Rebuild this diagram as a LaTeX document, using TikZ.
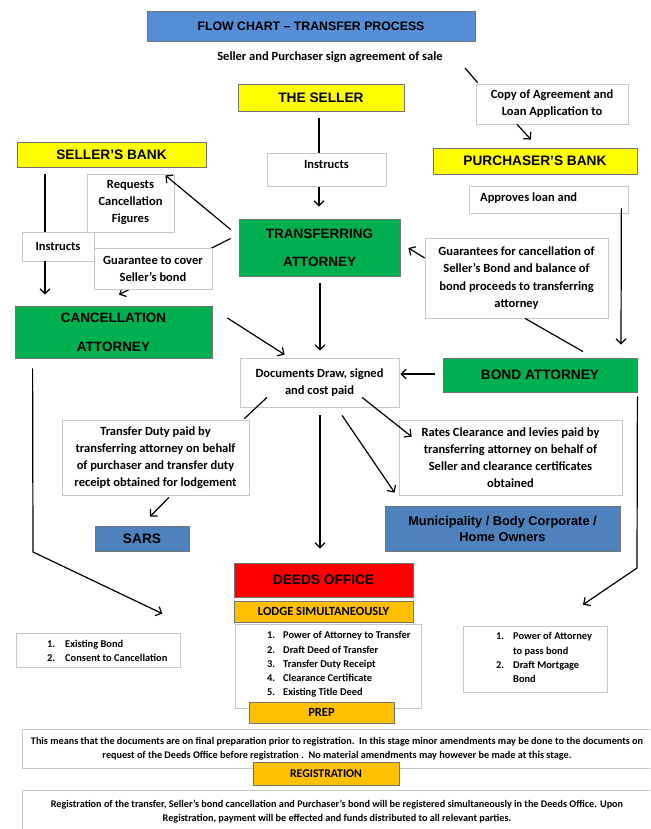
\documentclass[tikz,border=0pt]{standalone}
\usepackage{fontspec}
\setmainfont{Carlito}
\newfontfamily\arialf{Liberation Sans}
\usetikzlibrary{arrows.meta,backgrounds}
\definecolor{tblue}{HTML}{558ED5}
\definecolor{mblue}{HTML}{4F81BD}
\definecolor{tgreen}{HTML}{00B050}
\definecolor{tyellow}{HTML}{FFFF00}
\definecolor{tred}{HTML}{FF0000}
\definecolor{torange}{HTML}{FFC000}
\tikzset{
  txt/.style={inner sep=0pt, align=center, font=\bfseries\fontsize{12.5}{17}\selectfont},
  wbox/.style={draw=black!22, fill=white, line width=0.7pt, inner sep=0pt, align=center, font=\bfseries\fontsize{12.5}{17}\selectfont},
  hbox/.style={draw=black!55, line width=0.8pt, inner sep=0pt, align=center, font=\arialf\bfseries\fontsize{13.7}{15}\selectfont},
  obox/.style={draw=black!55, fill=torange, line width=0.8pt, inner sep=0pt, align=center, font=\bfseries\fontsize{12.5}{14}\selectfont},
  lst/.style={inner sep=0pt, anchor=west, align=left, font=\bfseries\fontsize{10.4}{14.3}\selectfont},
  para/.style={draw=black!22, fill=white, line width=0.7pt, inner sep=0pt, align=center, font=\bfseries\fontsize{10.2}{14}\selectfont},
  ln/.style={line width=1.2pt},
  arr/.style={line width=1.2pt, -{Straight Barb[length=5pt,width=10pt,line width=1.2pt]}}
}
\begin{document}
\begin{tikzpicture}[x=1pt,y=-1pt]
\useasboundingbox (0,0) rectangle (650,829);
\clip (0,0) rectangle (650,829);
% nodes
\node[hbox, fill=tblue, minimum width=328pt, minimum height=30pt, font=\arialf\bfseries\fontsize{12.3}{14}\selectfont] (title) at (311,26) {FLOW CHART – TRANSFER PROCESS};
\node[txt] (sign) at (330,57) {Seller and Purchaser sign agreement of sale};
\node[hbox, fill=tyellow, minimum width=166pt, minimum height=27pt] (seller) at (321,97.5) {THE SELLER};
\node[wbox, minimum width=152pt, minimum height=40pt] (copy) at (552,104) {Copy of Agreement and\\Loan Application to};
\node[wbox, minimum width=119pt, minimum height=33pt] (instr1) at (326.5,169.5) {};
\node[txt] (instr1t) at (326.5,164) {Instructs};
\node[hbox, fill=tyellow, minimum width=189pt, minimum height=25pt] (sbank) at (111.5,154.5) {SELLER’S BANK};
\node[hbox, fill=tyellow, minimum width=204pt, minimum height=26pt] (pbank) at (535,161) {PURCHASER’S BANK};
\node[wbox, minimum width=159pt, minimum height=27pt] (approves) at (548.5,199.5) {};
\node[txt, anchor=west] (approvest) at (480,198) {Approves loan and};
\node[wbox, minimum width=87pt, minimum height=58pt] (requests) at (130.5,203) {Requests\\Cancellation\\Figures};
\node[wbox, minimum width=72pt, minimum height=29pt] (instr2) at (58,246.5) {Instructs};
\node[wbox, minimum width=118pt, minimum height=41pt] (guarantee) at (153,268.5) {Guarantee to cover\\Seller’s bond};
\node[hbox, fill=tgreen, minimum width=161pt, minimum height=57pt, font=\arialf\bfseries\fontsize{13.5}{28}\selectfont] (ta) at (319.5,247.5) {TRANSFERRING\\ATTORNEY};
\node[wbox, minimum width=183pt, minimum height=80pt, font=\bfseries\fontsize{12.5}{17.5}\selectfont] (guarantees) at (516.5,278) {Guarantees for cancellation of\\Seller’s Bond and balance of\\bond proceeds to transferring\\attorney};
\node[hbox, fill=tgreen, minimum width=197pt, minimum height=52pt, font=\arialf\bfseries\fontsize{13.5}{29}\selectfont] (ca) at (113.5,332) {CANCELLATION\\ATTORNEY};
\node[wbox, minimum width=159pt, minimum height=49pt] (docs) at (319.5,382.5) {Documents Draw, signed\\and cost paid};
\node[hbox, fill=tgreen, minimum width=194pt, minimum height=34pt] (ba) at (540,375) {BOND ATTORNEY};
\node[wbox, minimum width=187pt, minimum height=75pt] (td) at (155.5,457.5) {Transfer Duty paid by\\transferring attorney on behalf\\of purchaser and transfer duty\\receipt obtained for lodgement};
\node[wbox, minimum width=223pt, minimum height=75pt] (rates) at (510.5,457.5) {Rates Clearance and levies paid by\\transferring attorney on behalf of\\Seller and clearance certificates\\obtained};
\node[hbox, fill=mblue, minimum width=94pt, minimum height=25pt] (sars) at (142,538.5) {SARS};
\node[hbox, fill=mblue, minimum width=235pt, minimum height=45pt, font=\arialf\bfseries\fontsize{12.8}{16}\selectfont] (muni) at (502.5,528.5) {Municipality / Body Corporate /\\Home Owners};
\node[hbox, fill=tred, minimum width=179pt, minimum height=34pt] (deeds) at (323.5,580) {DEEDS OFFICE};
\node[obox, minimum width=179pt, minimum height=21pt] (lodge) at (323.5,611.5) {LODGE SIMULTANEOUSLY};
\node[wbox, minimum width=186pt, minimum height=84pt] (listc) at (328,666) {};
\node[lst] (listct) at (267,664.5) {\begin{tabular}{@{}p{16pt}@{}l@{}}1. & Power of Attorney to Transfer\\2. & Draft Deed of Transfer\\3. & Transfer Duty Receipt\\4. & Clearance Certificate\\5. & Existing Title Deed\end{tabular}};
\node[obox, minimum width=145pt, minimum height=21pt] (prep) at (321.5,712.5) {PREP};
\node[wbox, minimum width=164pt, minimum height=34pt] (listl) at (98,650) {};
\node[lst] (listlt) at (47,651.5) {\begin{tabular}{@{}p{18pt}@{}l@{}}1. & Existing Bond\\2. & Consent to Cancellation\end{tabular}};
\node[wbox, minimum width=144pt, minimum height=66pt] (listr) at (535,659) {};
\node[lst] (listrt) at (496,658.5) {\begin{tabular}{@{}p{17pt}@{}l@{}}1. & Power of Attorney\\ & to pass bond\\2. & Draft Mortgage\\ & Bond\end{tabular}};
\node[para, minimum width=630pt, minimum height=39pt] (expl) at (337,748.5) {This means that the documents are on final preparation prior to registration.\ \ In this stage minor amendments may be done to the documents on\\request of the Deeds Office before registration .\ \ No material amendments may however be made at this stage.};
\node[obox, minimum width=146pt, minimum height=23pt, font=\bfseries\fontsize{11.8}{14}\selectfont] (reg) at (326,773.5) {REGISTRATION};
\node[para, minimum width=630pt, minimum height=44pt] (final) at (337,812) {Registration of the transfer, Seller’s bond cancellation and Purchaser’s bond will be registered simultaneously in the Deeds Office. Upon\\Registration, payment will be effected and funds distributed to all relevant parties.};
% coordinates for free ends / bends
\coordinate (signend) at (465,68);
\coordinate (bendL) at (33,552);
\coordinate (bendR) at (637,568);
% connectors
\begin{pgfonlayer}{background}
\draw[arr] ([xshift=-8pt,yshift=9pt]ta.west) -- ([xshift=5.5pt,yshift=11pt]ca.north);
\end{pgfonlayer}
\draw[ln] (signend) -- ([xshift=2pt,yshift=1pt]copy.north west);
\draw[arr] ([xshift=-35pt]copy.south) -- ([xshift=-4pt,yshift=8pt]pbank.north);
\draw[ln] ([xshift=-2pt,yshift=-7pt]seller.south) -- ([xshift=-7.5pt]instr1.north);
\draw[arr] ([xshift=-7.5pt,yshift=-1pt]instr1.south) -- ([xshift=-0.5pt,yshift=12pt]ta.north);
\draw[arr] ([xshift=-8pt,yshift=18pt]ta.west) -- ([xshift=-41pt,yshift=-8pt]sbank.south east);
\draw[ln] ([xshift=-66.5pt,yshift=-7pt]sbank.south) -- ([xshift=-13pt]instr2.north);
\draw[arr] ([xshift=-13pt]instr2.south) -- ([xshift=-68.5pt,yshift=11pt]ca.north);
\draw[arr] ([yshift=20pt]guarantees.west) -- ([xshift=8pt,yshift=-0.5pt]ta.east);
\draw[ln] ([xshift=8.5pt]guarantees.south) -- ([xshift=43pt,yshift=6pt]ba.north);
\draw[arr] ([xshift=-7pt,yshift=5pt]approves.south east) -- ([xshift=81pt,yshift=13pt]ba.north);
\draw[arr] ([xshift=0.5pt,yshift=-7pt]ta.south) -- ([xshift=0.5pt,yshift=7pt]docs.north);
\draw[arr] ([xshift=15pt,yshift=14pt]ca.east) -- ([xshift=45pt,yshift=3pt]docs.north west);
\draw[arr] ([xshift=-8pt,yshift=1pt]ba.west) -- ([xshift=1pt,yshift=8.5pt]docs.east);
\draw[ln] ([xshift=-52.5pt,yshift=10pt]docs.south) -- ([xshift=-5pt,yshift=1pt]td.north east);
\draw[arr] ([xshift=0.5pt,yshift=-8pt]docs.south) -- ([xshift=-3.5pt,yshift=14pt]deeds.north);
\draw[arr] ([xshift=22.5pt,yshift=-8pt]docs.south) -- ([xshift=10pt,yshift=13pt]muni.north west);
\draw[arr] ([xshift=42.5pt,yshift=10pt]docs.south) -- ([xshift=13pt,yshift=-17pt]rates.north west);
\draw[arr] ([xshift=13.5pt,yshift=-2pt]td.south) -- ([xshift=8pt,yshift=9pt]sars.north);
\draw[arr] ([xshift=18pt,yshift=-10pt]ca.south west) -- (bendL) -- ([xshift=-18pt,yshift=19pt]listl.north east);
\draw[arr] ([yshift=-4pt]ba.south east) -- (bendR) -- ([xshift=48pt,yshift=21pt]listr.north);
\end{tikzpicture}
\end{document}
